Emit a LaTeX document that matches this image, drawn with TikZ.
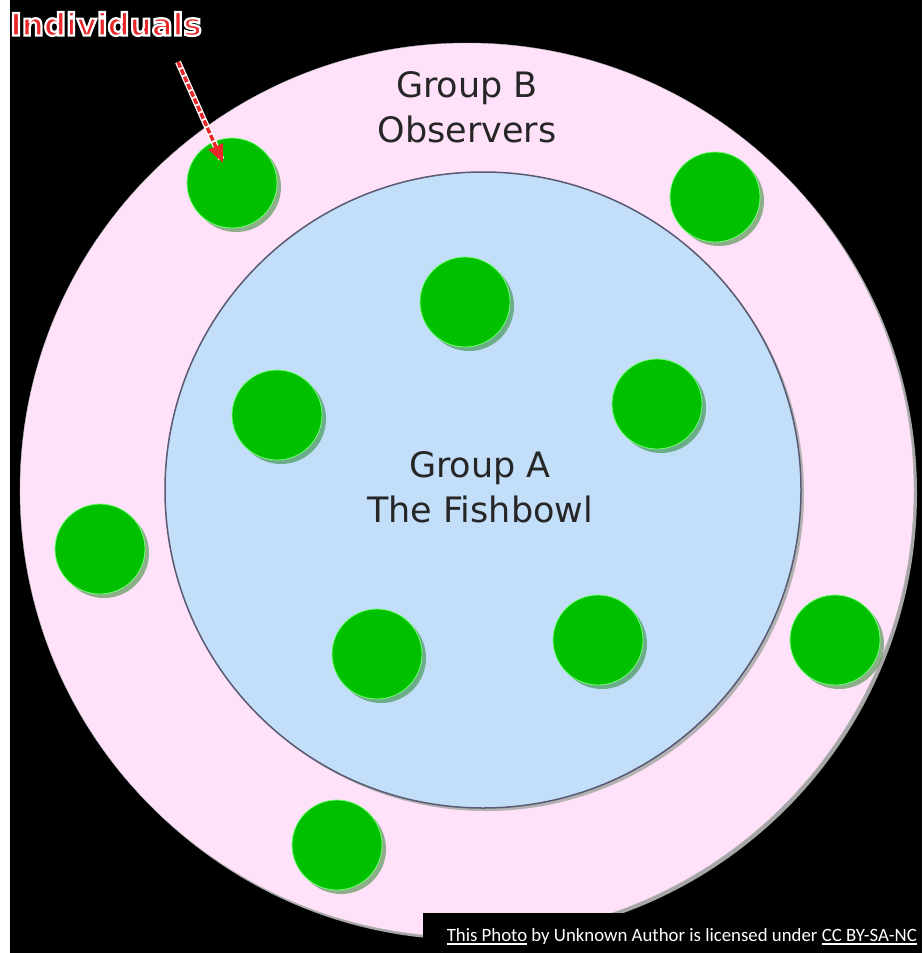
\documentclass[tikz,border=0pt]{standalone}
\usepackage{fontspec}
\setmainfont{DejaVu Sans}
\newfontfamily\credfont{Carlito}
\usetikzlibrary{shadows, arrows.meta}

\definecolor{bowlpink}{HTML}{FFE1FA}
\definecolor{bowlblue}{HTML}{C2DEF8}
\definecolor{dotgreen}{HTML}{00C000}
\definecolor{rimgray}{HTML}{5A5A72}
\definecolor{labelred}{HTML}{E8282A}

\newcommand{\credline}[1]{{\setbox0\hbox{#1}\rlap{\rule[-4pt]{\wd0}{2pt}}\box0}}
\newcommand{\haloed}[1]{\special{pdf:literal q 2 Tr 2.2 w 1 1 1 RG}#1\special{pdf:literal Q}}

\begin{document}
\begin{tikzpicture}[x=1pt, y=-1pt,
  person/.style={circle, fill=dotgreen, draw=green!55!white, line width=0.8pt,
    minimum size=90pt, inner sep=0pt,
    drop shadow={shadow xshift=4pt, shadow yshift=-4pt, fill=black!55!green, opacity=0.45}},
  ringtext/.style={align=center, text=black!85, font=\fontsize{35}{45}\selectfont}]

% Background
\fill[black] (0,0) rectangle (922,953);
\fill[white] (0,0) rectangle (10,953);
\useasboundingbox (0,0) rectangle (922,953);

% Outer ring: Group B
\fill[gray!70] (470,493) circle[radius=447pt];
\filldraw[fill=bowlpink, draw=gray!60] (467,490) circle[radius=447pt];

% Inner bowl: Group A
\fill[gray!60] (486,493) circle[radius=318pt];
\filldraw[fill=bowlblue, draw=rimgray, line width=1.5pt] (483,490) circle[radius=318pt];

% Labels
\node[ringtext] (grpb) at (467,107) {Group B\\Observers};
\node[ringtext] (grpa) at (480,487) {Group A\\The Fishbowl};

% Observers
\node[person] (d1) at (232,183) {};
\node[person] (d2) at (715,197) {};
\node[person] (d3) at (100,549) {};
\node[person] (d4) at (835,640) {};
\node[person] (d5) at (337,845) {};

% Fishbowl members
\node[person] (f1) at (465,302) {};
\node[person] (f2) at (277,415) {};
\node[person] (f3) at (657,404) {};
\node[person] (f4) at (377,654) {};
\node[person] (f5) at (598,640) {};

% Individuals pointer
\node[inner sep=0pt, text=labelred, font=\bfseries\fontsize{31}{31}\selectfont] (ind) at (106,24)
  {\haloed{Individuals}};
\coordinate (arrtail) at (178,62);
\draw[white, line width=6pt, shorten >=26pt] (arrtail) -- (d1.center);
\draw[labelred, line width=3.5pt, dash pattern=on 6pt off 2pt, shorten >=22pt,
  -{Triangle[length=18pt, width=15pt]}] (arrtail) -- (d1.center);

% Credit line
\fill[black] (423,913) rectangle (922,953);
\node[anchor=base east, text=white, inner sep=0pt,
  font=\credfont\fontsize{18.8}{20}\selectfont] (credit) at (917,941)
  {\credline{This Photo} by Unknown Author is licensed under \credline{CC BY-SA-NC}};

\end{tikzpicture}
\end{document}
